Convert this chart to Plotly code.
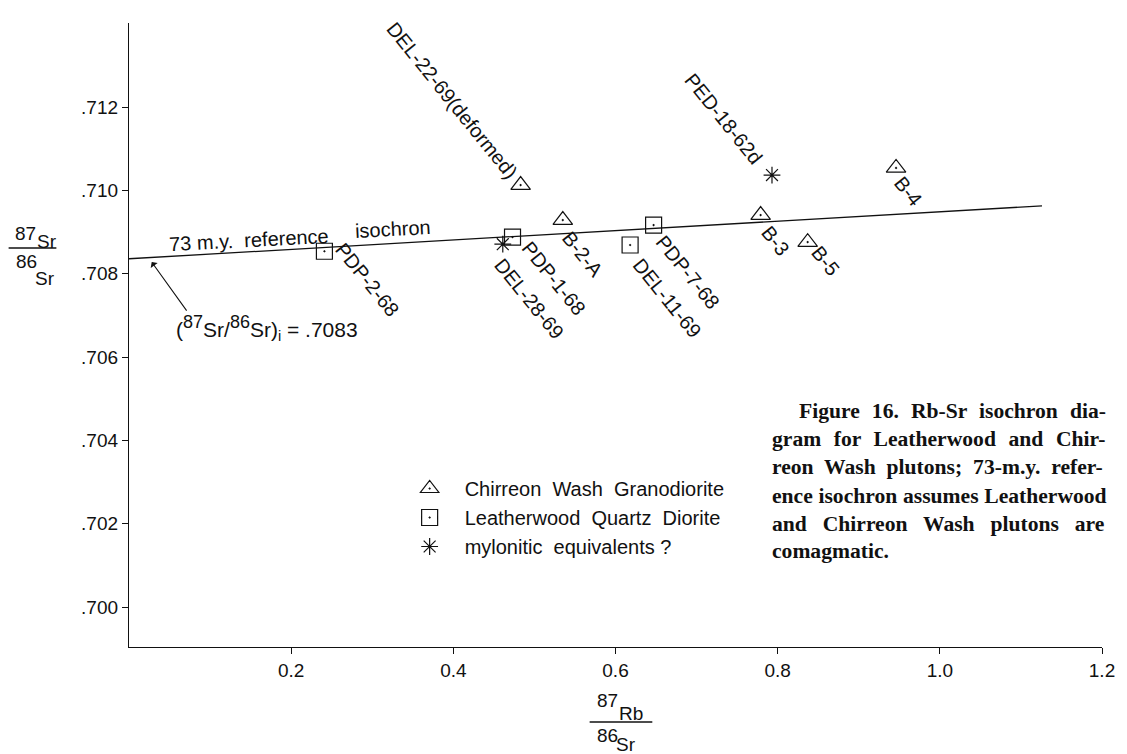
import plotly.graph_objects as go

# ---------------- data ----------------
chirreon_names = ["DEL-22-69(deformed)", "B-2-A", "B-3", "B-5", "B-4"]
chirreon_rb = [0.483, 0.535, 0.779, 0.837, 0.946]
chirreon_sr = [0.71013, 0.70929, 0.70941, 0.70876, 0.71054]

leather_names = ["PDP-2-68", "PDP-1-68", "PDP-7-68", "DEL-11-69"]
leather_rb = [0.241, 0.473, 0.647, 0.618]
leather_sr = [0.70854, 0.70888, 0.70917, 0.70869]

mylon_names = ["DEL-28-69", "PED-18-62d"]
mylon_rb = [0.461, 0.793]
mylon_sr = [0.70871, 0.71037]

isochron_rb = [0.0, 1.126]
isochron_sr = [0.70836, 0.70963]
initial_ratio_rb = 0.028
initial_ratio_sr = 0.70828

x_tickvals = [0.2, 0.4, 0.6, 0.8, 1.0, 1.2]
x_ticktext = ["0.2", "0.4", "0.6", "0.8", "1.0", "1.2"]
y_tickvals = [0.700, 0.702, 0.704, 0.706, 0.708, 0.710, 0.712]
y_ticktext = [".700", ".702", ".704", ".706", ".708", ".710", ".712"]

legend_names = ["Chirreon  Wash  Granodiorite",
                "Leatherwood  Quartz  Diorite",
                "mylonitic  equivalents ?"]

caption_lines = ["Figure 16. Rb-Sr isochron dia-",
                 "gram for Leatherwood and Chir-",
                 "reon Wash plutons; 73-m.y. refer-",
                 "ence isochron assumes Leatherwood",
                 "and Chirreon Wash plutons are",
                 "comagmatic."]

# ---------------- layout / style ----------------
W, H = 1127, 754
ML, MR, MT, MB = 129, 20, 23, 107
PW, PH = W - ML - MR, H - MT - MB
X_RANGE = [0.0, 1.2]
Y_RANGE = [0.69904, 0.71402]
INK = "#111111"
SANS = "Liberation Sans, Arial, sans-serif"
SERIF = "Liberation Serif, Times New Roman, serif"
LABEL_ANGLE = 51
LABEL_SIZE = 20

# label pixel nudges (dx right, dy down) and which labels sit above-left
label_nudge = {
    "PDP-2-68": (4, -15), "PDP-1-68": (2, -3), "DEL-28-69": (-15, 7),
    "B-2-A": (-8, 4), "PDP-7-68": (-5, 3), "DEL-11-69": (-4, 6),
    "B-3": (-6, 4), "B-5": (-3, -3), "B-4": (-9, 1),
    "DEL-22-69(deformed)": (5, 1), "PED-18-62d": (-2, -4),
}
above_left = {"DEL-22-69(deformed)", "PED-18-62d"}

# caption line placement (left px, middle px, word spacing px) to mimic justification
cap_left = [800, 773, 773, 773, 773, 773]
cap_mid = [411, 439, 467, 496, 524, 551]
cap_wordspace = [6.7, 7.2, 5.5, 0.3, 10.5, 0]


def px(xpix):
    return (xpix - ML) / PW


def py(ypix):
    return (H - MB - ypix) / PH


fig = go.Figure()

fig.add_trace(go.Scatter(
    x=isochron_rb, y=isochron_sr, mode="lines",
    line=dict(color=INK, width=1.3), showlegend=False, hoverinfo="skip"))

series = [
    (legend_names[0], chirreon_names, chirreon_rb, chirreon_sr, "triangle-up-open-dot", 17),
    (legend_names[1], leather_names, leather_rb, leather_sr, "square-open-dot", 16),
    (legend_names[2], mylon_names, mylon_rb, mylon_sr, "asterisk-open", 14),
]
for name, names, xs, ys, sym, size in series:
    fig.add_trace(go.Scatter(
        x=xs, y=ys, mode="markers", name=name, text=names,
        marker=dict(symbol=sym, size=size, color=INK,
                    line=dict(color=INK, width=1.2)),
        cliponaxis=False))

annotations = []
# point labels
for _, names, xs, ys, _, _ in series:
    for n, xv, yv in zip(names, xs, ys):
        dx, dy = label_nudge.get(n, (0, 0))
        if n in above_left:
            xa, ya = "right", "bottom"
        else:
            xa, ya = "left", "top"
        annotations.append(dict(
            x=xv, y=yv, xref="x", yref="y", text=n, showarrow=False,
            textangle=LABEL_ANGLE, xanchor=xa, yanchor=ya,
            xshift=dx, yshift=-dy,
            font=dict(family=SANS, size=LABEL_SIZE, color=INK)))

# isochron labels
annotations.append(dict(x=px(250), y=py(240), xref="paper", yref="paper",
                        text="73 m.y.  reference", showarrow=False, textangle=-3,
                        xanchor="center", yanchor="middle",
                        font=dict(family=SANS, size=20, color=INK)))
annotations.append(dict(x=px(394), y=py(229), xref="paper", yref="paper",
                        text="isochron", showarrow=False, textangle=-3,
                        xanchor="center", yanchor="middle",
                        font=dict(family=SANS, size=20, color=INK)))
big_sup = "<sup><span style=\"font-size:18px\">%s</span></sup>"
annotations.append(dict(x=px(268), y=py(328), xref="paper", yref="paper",
                        text="(" + big_sup % "87" + "Sr/" + big_sup % "86"
                             + "Sr)<sub>i</sub> = .7083",
                        showarrow=False, xanchor="center", yanchor="middle",
                        font=dict(family=SANS, size=21, color=INK)))
# arrow to initial ratio
annotations.append(dict(x=initial_ratio_rb, y=initial_ratio_sr, xref="x", yref="y",
                        text="", showarrow=True, ax=36, ay=50,
                        arrowhead=1, arrowsize=1.3, arrowwidth=1.1,
                        arrowcolor=INK, standoff=0))

# y-axis title as a stacked fraction
for txt, lx, cy in [("87", 12, 233), ("Sr", 35, 242), ("86", 13, 261), ("Sr", 33, 278)]:
    annotations.append(dict(x=px(lx), y=py(cy), xref="paper", yref="paper",
                            text=txt, showarrow=False, xanchor="left", yanchor="middle",
                            font=dict(family=SANS, size=19, color=INK)))
# x-axis title as a stacked fraction
for txt, lx, cy in [("87", 597, 700), ("Rb", 620, 713), ("86", 597, 735), ("Sr", 616, 745)]:
    annotations.append(dict(x=px(lx), y=py(cy), xref="paper", yref="paper",
                            text=txt, showarrow=False, xanchor="left", yanchor="middle",
                            font=dict(family=SANS, size=19, color=INK)))

# caption
for line, lx, cy, ws in zip(caption_lines, cap_left, cap_mid, cap_wordspace):
    annotations.append(dict(x=px(lx), y=py(cy), xref="paper", yref="paper",
                            text="<b><span style=\"word-spacing:%.1fpx\">%s</span></b>" % (ws, line),
                            showarrow=False, xanchor="left", yanchor="middle",
                            font=dict(family=SERIF, size=21.6, color=INK)))

shapes = [
    dict(type="line", xref="paper", yref="paper", x0=px(8), x1=px(56),
         y0=py(248), y1=py(248), line=dict(color=INK, width=1.3)),
    dict(type="line", xref="paper", yref="paper", x0=px(592), x1=px(655),
         y0=py(722), y1=py(722), line=dict(color=INK, width=1.3)),
]

axis_common = dict(showline=True, linecolor=INK, linewidth=1.3, showgrid=False,
                   zeroline=False, ticks="outside", ticklen=6, tickwidth=1.2,
                   tickcolor=INK, tickfont=dict(family=SANS, size=19, color=INK),
                   fixedrange=True)

fig.update_layout(
    width=W, height=H,
    margin=dict(l=ML, r=MR, t=MT, b=MB, pad=0),
    paper_bgcolor="white", plot_bgcolor="white",
    xaxis=dict(range=X_RANGE, tickvals=x_tickvals, ticktext=x_ticktext, **axis_common),
    yaxis=dict(range=Y_RANGE, tickvals=y_tickvals, ticktext=y_ticktext, **axis_common),
    showlegend=True,
    legend=dict(x=px(396), y=py(469), xanchor="left", yanchor="top",
                bgcolor="rgba(0,0,0,0)", borderwidth=0, itemwidth=60,
                font=dict(family=SANS, size=20, color=INK)),
    annotations=annotations, shapes=shapes,
)

fig.write_html("out.html", config={"displayModeBar": False},
               post_script="document.body.style.margin='0px';document.body.style.overflow='hidden';")
